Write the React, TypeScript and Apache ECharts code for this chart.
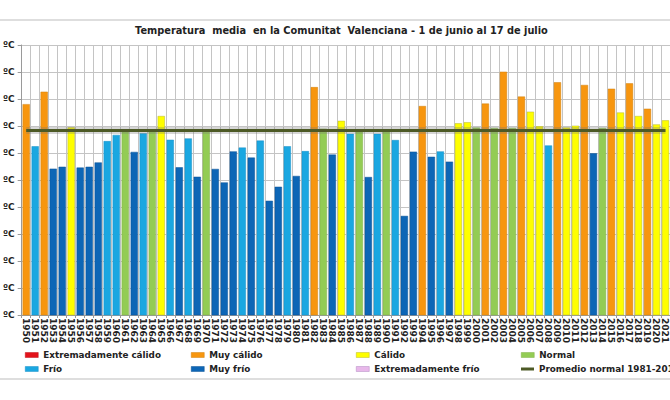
import React, { useEffect, useRef } from "react";
import * as echarts from "echarts";

// Years shown on the category axis
const years: string[] = [];
for (let y = 1950; y <= 2021; y++) years.push(String(y));

// Mean temperature 1 June – 17 July (ºC)
const meanTemp: number[] = [
  23.81, 22.25, 24.27, 21.42, 21.49, 22.95, 21.46, 21.49, 21.65, 22.44, 22.67,
  22.79, 22.04, 22.73, 22.85, 23.37, 22.49, 21.47, 22.54, 21.12, 22.88, 21.41,
  20.91, 22.06, 22.2, 21.83, 22.46, 20.23, 20.75, 22.25, 21.15, 22.07, 24.44,
  22.9, 21.94, 23.19, 22.71, 22.85, 21.11, 22.71, 22.85, 22.48, 19.67, 22.05,
  23.74, 21.86, 22.06,
  21.68, 23.1, 23.14, 22.94, 23.83, 22.93, 25.01, 22.93, 24.09, 23.53, 22.99,
  22.28, 24.62, 22.94, 23.01, 24.52, 21.99, 22.93, 24.38, 23.5, 24.58, 23.37,
  23.64, 23.06, 23.21,
];

// Character of each year (index into classNames)
const yearClass: number[] = [
  1, 4, 1, 5, 5, 2, 5, 5, 5, 4, 4, 3, 5, 4, 3, 2, 4, 5, 4, 5, 3, 5,
  5, 5, 4, 5, 4, 5, 5, 4, 5, 4, 1, 3, 5, 2, 4, 3, 5, 4, 3, 4, 5, 5, 1, 5, 4,
  5, 2, 2, 3, 1, 3, 1, 3, 1, 2, 2, 4, 1, 2, 2, 1, 5, 3, 1, 2, 1, 2, 1, 2, 2,
];

const classNames: string[] = [
  "Extremadamente cálido",
  "Muy cálido",
  "Cálido",
  "Normal",
  "Frío",
  "Muy frío",
  "Extremadamente frío",
];
const classColors: string[] = [
  "#e3121a",
  "#f7960f",
  "#fefe00",
  "#93cc54",
  "#1aa7e1",
  "#0d66b6",
  "#e8b8ea",
];
const classBorders: string[] = [
  "#c01018",
  "#d08010",
  "#b8b830",
  "#80b048",
  "#1890c8",
  "#0a5296",
  "#b088c0",
];

const normalName = "Promedio normal 1981-2010";
const normalValue = 22.83;
const normalColor = "#4d5a26";

const yMin = 16;
const yMax = 26;
const yStep = 1;

const FONT = "DejaVu Sans";

export default function App() {
  const ref = useRef<HTMLDivElement>(null);

  useEffect(() => {
    if (!ref.current) return;
    const chart = echarts.init(ref.current, undefined, { renderer: "svg" });

    const barSeries = classNames.map((name, ci) => ({
      name,
      type: "bar",
      stack: "temp",
      barWidth: "80%",
      itemStyle: {
        color: classColors[ci],
        borderColor: classBorders[ci],
        borderWidth: 0.5,
      },
      data: meanTemp.map((v, i) => (yearClass[i] === ci ? v : "-")),
    }));

    const legendLeft = [25, 191, 356, 521];
    const legendTop = [349, 363];
    const legendOrder = [...classNames, normalName];
    const legends = legendOrder.map((name, k) => {
      const isLine = name === normalName;
      const itemStyle = isLine
        ? { color: normalColor, borderWidth: 0 }
        : {
            color: classColors[k],
            borderColor: classBorders[k],
            borderWidth: 0.5,
          };
      return {
        data: [{ name, icon: "rect", itemStyle }],
        left: legendLeft[k % 4],
        top: legendTop[Math.floor(k / 4)],
        padding: 0,
        itemWidth: 13,
        itemHeight: isLine ? 3 : 5,
        selectedMode: false,
        textStyle: {
          fontFamily: FONT,
          fontWeight: "bold",
          fontSize: 8.8,
          color: "#222",
          lineHeight: 12,
        },
      };
    });

    const normalData = meanTemp.map(() => normalValue);

    chart.setOption({
      animation: false,
      backgroundColor: "#ffffff",
      title: {
        text: "Temperatura  media  en la Comunitat  Valenciana - 1 de junio al 17 de julio",
        left: 135,
        top: 25,
        padding: 0,
        textStyle: {
          fontFamily: FONT,
          fontWeight: "bold",
          fontSize: 9.8,
          color: "#222",
        },
      },
      graphic: [
        {
          type: "rect",
          silent: true,
          z: -10,
          shape: { x: -2, y: 20, width: 674, height: 359 },
          style: { fill: "none", stroke: "#bdbdbd", lineWidth: 1 },
        },
      ],
      legend: legends,
      grid: { left: 20.5, right: -5, top: 45, bottom: 85 },
      xAxis: {
        type: "category",
        data: years,
        boundaryGap: true,
        axisLine: { lineStyle: { color: "#9a9a9a", width: 1 } },
        axisTick: { show: true, length: 3, lineStyle: { color: "#9a9a9a" } },
        splitLine: { show: true, lineStyle: { color: "#c4c4c4", width: 1 } },
        axisLabel: {
          interval: 0,
          rotate: -90,
          margin: 3,
          fontFamily: FONT,
          fontWeight: "bold",
          fontSize: 9,
          color: "#222",
        },
      },
      yAxis: {
        type: "value",
        min: yMin,
        max: yMax,
        interval: yStep,
        axisLine: { show: true, lineStyle: { color: "#9a9a9a" } },
        axisTick: { show: true, length: 4, lineStyle: { color: "#9a9a9a" } },
        splitLine: { show: true, lineStyle: { color: "#c4c4c4", width: 1 } },
        axisLabel: {
          formatter: () => "ºC",
          margin: 7,
          fontFamily: FONT,
          fontWeight: "bold",
          fontSize: 9,
          color: "#222",
        },
      },
      series: [
        ...barSeries,
        // soft grey halo under the normal line
        {
          name: "halo",
          type: "line",
          symbol: "none",
          silent: true,
          z: 4,
          lineStyle: { color: "rgba(120,120,120,0.3)", width: 7 },
          data: normalData,
        },
        {
          name: normalName,
          type: "line",
          symbol: "none",
          z: 5,
          color: normalColor,
          lineStyle: { color: normalColor, width: 3 },
          data: normalData,
        },
      ],
    });

    return () => chart.dispose();
  }, []);

  return (
    <div
      ref={ref}
      style={{ position: "fixed", left: 0, top: 0, width: 670, height: 400 }}
    />
  );
}
